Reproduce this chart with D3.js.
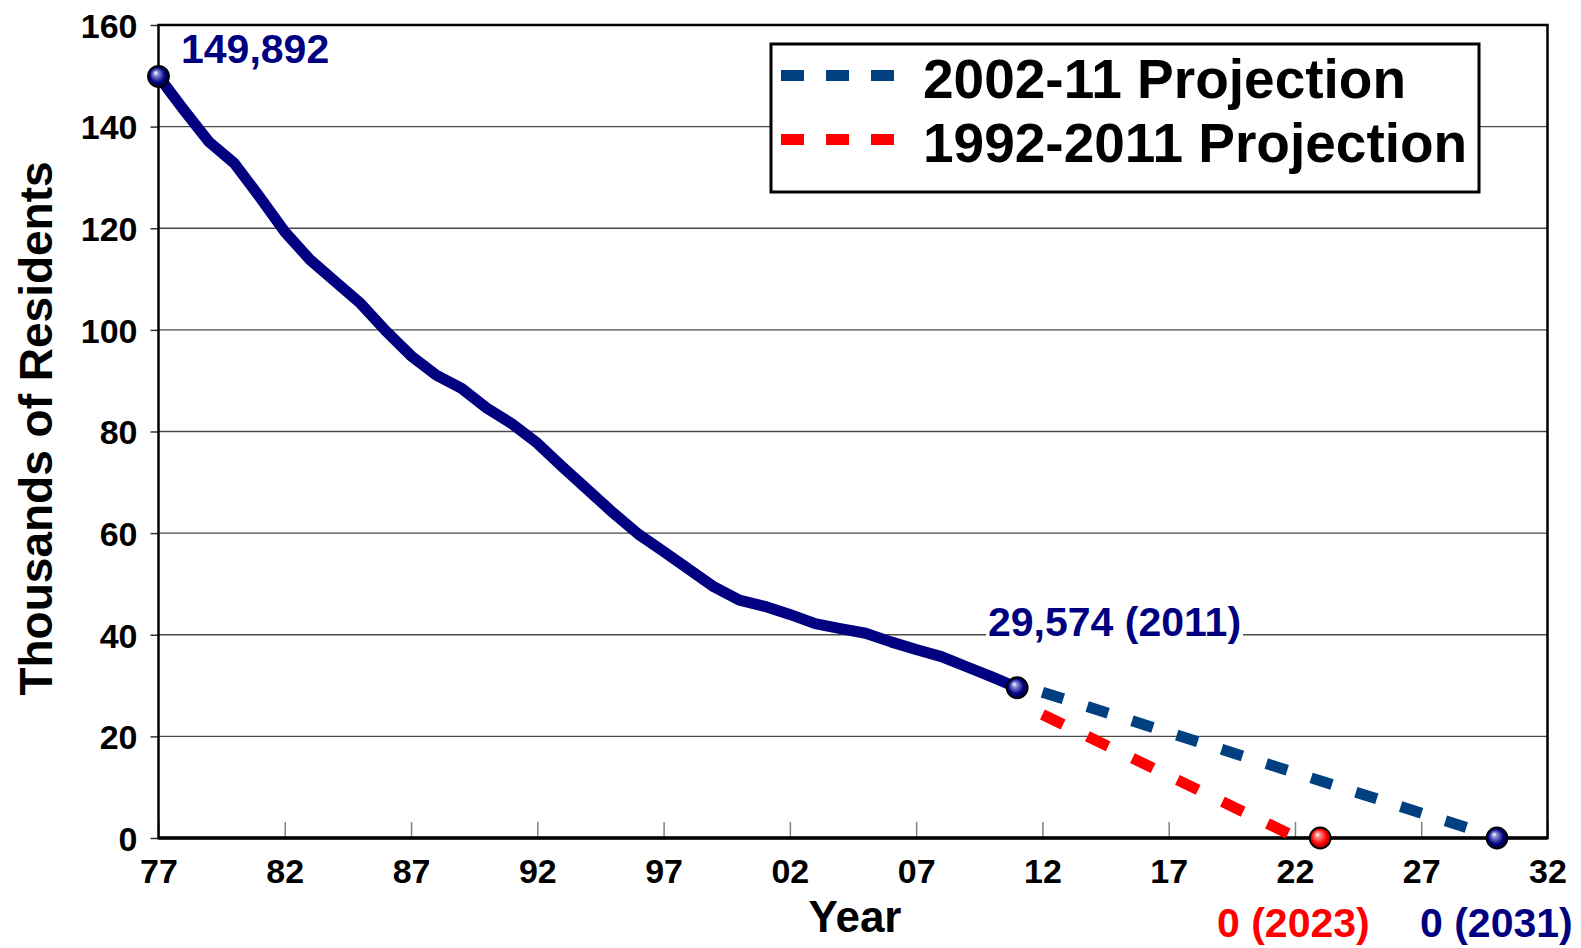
<!DOCTYPE html>
<meta charset="utf-8">
<style>
    body { margin: 0; background: #fff; }
    svg text { font-family: "Liberation Sans", Arial, sans-serif; font-weight: bold; }
</style>
<body>
<div class="chart"></div>
<script src="https://d3js.org/d3.v7.min.js"></script>
<script>

    // residents (thousands) per year
    const years = [1977, 1978, 1979, 1980, 1981, 1982, 1983, 1984, 1985, 1986, 1987, 1988,
        1989, 1990, 1991, 1992, 1993, 1994, 1995, 1996, 1997, 1998, 1999, 2000, 2001, 2002,
        2003, 2004, 2005, 2006, 2007, 2008, 2009, 2010, 2011];
    const residents = [149.892, 143.3, 137.0, 132.8, 126.2, 119.3, 113.8, 109.5, 105.2, 99.8,
        94.9, 91.1, 88.5, 84.6, 81.5, 77.7, 73.0, 68.5, 64.0, 59.8, 56.4, 52.9, 49.4, 46.8,
        45.6, 44.0, 42.2, 41.2, 40.3, 38.6, 37.1, 35.7, 33.7, 31.7, 29.574];

    // projection lines
    const proj0211Years = [2012, 2030.1];
    const proj0211Values = [28.7, 0];
    const proj9211Years = [2012, 2022.1];
    const proj9211Values = [24.3, 0];

    // ball markers
    const markerYears = [1977, 2011, 2023, 2030];
    const markerValues = [149.892, 29.574, 0, 0];
    const markerKinds = ["navy", "navy", "red", "navy"];

    const yTicks = [0, 20, 40, 60, 80, 100, 120, 140, 160];
    const xTicks = [1977, 1982, 1987, 1992, 1997, 2002, 2007, 2012, 2017, 2022, 2027, 2032];

    const legendLabels = ["2002-11 Projection", "1992-2011 Projection"];
    const legendColors = ["#004080", "#ff0000"];

    const width = 1581, height = 948;
    const margin = {top: 25, right: 33.5, bottom: 110, left: 158.5};

    const svg = d3.select(".chart").append("svg")
        .attr("width", width)
        .attr("height", height);

    const x = d3.scaleLinear().domain([1977, 2032]).range([margin.left, width - margin.right]);
    const y = d3.scaleLinear().domain([0, 160]).range([height - margin.bottom, margin.top]);

    // gradients for the ball markers
    const defs = svg.append("defs");
    function ball(id, light, mid, dark) {
        const g = defs.append("radialGradient").attr("id", id)
            .attr("cx", "50%").attr("cy", "50%").attr("r", "55%")
            .attr("fx", "35%").attr("fy", "32%");
        g.append("stop").attr("offset", "0%").attr("stop-color", "#fff");
        g.append("stop").attr("offset", "25%").attr("stop-color", light);
        g.append("stop").attr("offset", "65%").attr("stop-color", mid);
        g.append("stop").attr("offset", "100%").attr("stop-color", dark);
    }
    ball("ball-navy", "#8080d0", "#000080", "#000030");
    ball("ball-red", "#ff8080", "#ff0000", "#700000");

    // grid
    svg.append("g")
        .selectAll("line")
        .data(yTicks.slice(1, -1))
        .join("line")
        .attr("x1", x(1977)).attr("x2", x(2032))
        .attr("y1", d => y(d)).attr("y2", d => y(d))
        .attr("stroke", "#4a4a4a")
        .attr("stroke-width", 1.3);

    // y axis
    const yAxis = svg.append("g")
        .attr("transform", `translate(${x(1977)},0)`)
        .call(d3.axisLeft(y).tickValues(yTicks).tickSize(8).tickPadding(13));
    yAxis.select(".domain").remove();
    yAxis.selectAll("line").attr("stroke", "#333").attr("stroke-width", 1.5);
    yAxis.selectAll("text")
        .attr("fill", "#000")
        .style("font-size", "34px")
        .attr("dy", "0.36em");

    // x axis, ticks pointing up into the plot
    const xAxis = svg.append("g")
        .attr("transform", `translate(0,${y(0)})`)
        .call(d3.axisBottom(x).tickValues(xTicks).tickSizeInner(-16).tickSizeOuter(0).tickPadding(21)
            .tickFormat(d => String(d % 100).padStart(2, "0")));
    xAxis.select(".domain").remove();
    xAxis.selectAll("line").attr("stroke", "#808080").attr("stroke-width", 1.5);
    xAxis.selectAll("text")
        .attr("fill", "#000")
        .style("font-size", "34px");

    // plot frame
    svg.append("rect")
        .attr("x", x(1977)).attr("y", y(160))
        .attr("width", x(2032) - x(1977)).attr("height", y(0) - y(160))
        .attr("fill", "none").attr("stroke", "#000").attr("stroke-width", 2.5);
    svg.append("line")
        .attr("x1", x(1977)).attr("x2", x(2032))
        .attr("y1", y(0)).attr("y2", y(0))
        .attr("stroke", "#000").attr("stroke-width", 3.5);

    // axis titles
    svg.append("text")
        .attr("transform", `translate(52,${(y(0) + y(160)) / 2 - 3}) rotate(-90)`)
        .attr("text-anchor", "middle")
        .style("font-size", "46px")
        .text("Thousands of Residents");

    svg.append("text")
        .attr("x", (x(1977) + x(2032)) / 2 + 2)
        .attr("y", 932)
        .attr("text-anchor", "middle")
        .style("font-size", "44px")
        .text("Year");

    // projections
    const line = d3.line().x(d => x(d[0])).y(d => y(d[1]));
    svg.append("path")
        .attr("d", line(d3.zip(proj0211Years, proj0211Values)))
        .attr("fill", "none")
        .attr("stroke", legendColors[0])
        .attr("stroke-width", 11)
        .attr("stroke-dasharray", "22,25");
    svg.append("path")
        .attr("d", line(d3.zip(proj9211Years, proj9211Values)))
        .attr("fill", "none")
        .attr("stroke", legendColors[1])
        .attr("stroke-width", 11)
        .attr("stroke-dasharray", "23,27");

    // history
    svg.append("path")
        .attr("d", line(d3.zip(years, residents)))
        .attr("fill", "none")
        .attr("stroke", "#000080")
        .attr("stroke-width", 11)
        .attr("stroke-linejoin", "round");

    // markers
    svg.append("g")
        .selectAll("circle")
        .data(d3.zip(markerYears, markerValues, markerKinds))
        .join("circle")
        .attr("cx", d => x(d[0]))
        .attr("cy", d => y(d[1]))
        .attr("r", 10.5)
        .attr("fill", d => `url(#ball-${d[2]})`)
        .attr("stroke", "#000")
        .attr("stroke-width", 1.8);

    // value labels
    svg.append("text")
        .attr("x", 181).attr("y", 63)
        .attr("fill", "#000080")
        .style("font-size", "41px")
        .text("149,892");

    // 2011 label sits on a white patch that cuts the 40 gridline
    const lblGroup = svg.append("g");
    const lblBack = lblGroup.append("rect").attr("fill", "#fff");
    const lbl2011 = lblGroup.append("text")
        .attr("x", 988).attr("y", 636)
        .attr("fill", "#000080")
        .style("font-size", "41px")
        .text("29,574 (2011)");
    const bb = lbl2011.node().getBBox();
    lblBack
        .attr("x", bb.x - 2).attr("y", bb.y + 4)
        .attr("width", bb.width + 4).attr("height", bb.height - 8);

    svg.append("text")
        .attr("x", 1217).attr("y", 937)
        .attr("fill", "#ff0000")
        .style("font-size", "41px")
        .text("0 (2023)");

    svg.append("text")
        .attr("x", 1420).attr("y", 937)
        .attr("fill", "#000080")
        .style("font-size", "41px")
        .text("0 (2031)");

    // legend
    const legend = svg.append("g");
    legend.append("rect")
        .attr("x", 771).attr("y", 44)
        .attr("width", 708).attr("height", 148)
        .attr("fill", "#fff")
        .attr("stroke", "#000")
        .attr("stroke-width", 3);
    legendLabels.forEach((label, i) => {
        const ly = 75.5 + i * 64;
        legend.append("line")
            .attr("x1", 781).attr("x2", 894)
            .attr("y1", ly).attr("y2", ly)
            .attr("stroke", legendColors[i])
            .attr("stroke-width", 11)
            .attr("stroke-dasharray", "23,22");
        legend.append("text")
            .attr("x", 923).attr("y", ly + 22.5)
            .style("font-size", "55px")
            .attr("fill", "#000")
            .text(label);
    });

</script>
